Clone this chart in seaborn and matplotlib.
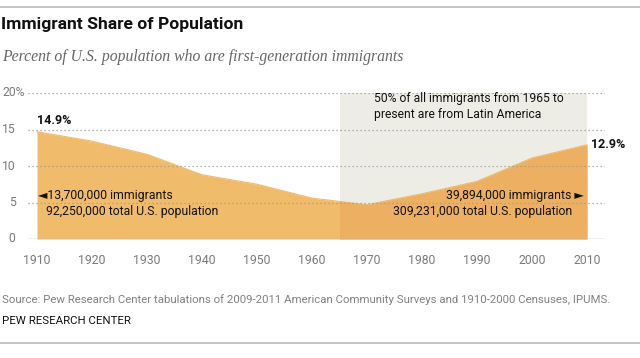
import matplotlib
matplotlib.use("Agg")
import matplotlib.pyplot as plt
import matplotlib.transforms as mtransforms
import seaborn as sns
import pandas as pd
from matplotlib.patches import Rectangle
from matplotlib.lines import Line2D

years = [1910, 1920, 1930, 1940, 1950, 1960, 1970, 1980, 1990, 2000, 2010]
share = [14.7, 13.4, 11.6, 8.8, 7.5, 5.6, 4.7, 6.2, 7.9, 11.1, 12.9]
yticks = [0, 5, 10, 15, 20]
ytick_labels = ["0", "5", "10", "15", "20%"]
shade_start, shade_end = 1965, 2010

df = pd.DataFrame({"year": years, "share": share})

sns.set_theme(style="white")
FONT = ["Roboto", "DejaVu Sans"]
plt.rcParams["font.family"] = FONT

W, H = 640, 358
fig = plt.figure(figsize=(W / 100, H / 100), dpi=100)
fig.patch.set_facecolor("white")

def fx(px):
    return px / W

def fy(py):
    return 1 - py / H

ax = fig.add_axes([fx(28), fy(239), fx(605) - fx(28), fy(93) - fy(239)])
ax.set_xlim(1910 - 9 / 5.5, 2010 + 18 / 5.5)
ax.set_ylim(0, 20)
ax.set_facecolor("none")
for s in ax.spines.values():
    s.set_visible(False)

# shaded era
shade = Rectangle((shade_start, 0), shade_end - shade_start, 20,
                  facecolor="#EEEDE5", edgecolor="none", zorder=0)
ax.add_patch(shade)

# gridlines
for t in yticks[1:]:
    ax.axhline(t, color="#9a9a9a", lw=0.9, ls=(0, (1, 2.2)), zorder=3)

# area
sns.lineplot(data=df, x="year", y="share", ax=ax, color="#F0BB6B", lw=0.8,
             zorder=2, legend=False)
ax.fill_between(years, share, 0, color="#F0BB6B", lw=0, zorder=2)
dark = ax.fill_between(years, share, 0, color="#EDB062", lw=0, zorder=2.5)
clip = Rectangle((shade_start, 0), shade_end - shade_start, 20,
                 transform=ax.transData, facecolor="none", edgecolor="none")
dark.set_clip_path(clip)
ax.axhline(0, color="#b5b5b5", lw=1.0, zorder=4)
ax.set_xlabel("")
ax.set_ylabel("")
ax.set_xticks([])
ax.set_yticks([])

# y tick labels (numbers right-aligned, top label with % starts at left edge)
ytrans = mtransforms.blended_transform_factory(fig.transFigure, ax.transData)
for t, lab in zip(yticks, ytick_labels):
    if lab.endswith("%"):
        fig.text(fx(2), t, lab, transform=ytrans, fontsize=8.7, color="#7a7a7a",
                 ha="left", va="center")
    else:
        fig.text(fx(15.5), t, lab, transform=ytrans, fontsize=8.7, color="#7a7a7a",
                 ha="right", va="center")

# x tick labels
for yr in years:
    ax.text(yr, -2.95, str(yr), fontsize=8.8, color="#7a7a7a", ha="center",
            va="center")

# annotations
ax.text(years[0], share[0] + 0.6, "14.9%", fontsize=9, fontweight="bold",
        color="#111111", ha="left", va="bottom")
ax.text(years[-1] + 0.7, share[-1], "12.9%", fontsize=9, fontweight="bold",
        color="#111111", ha="left", va="center")
ax.text(years[0] + 0.2, 5.9, "\u25C413,700,000 immigrants", fontsize=8.8,
        color="#111111", ha="left", va="center", family=FONT)
ax.text(years[0] + 1.6, 3.8, "92,250,000 total U.S. population", fontsize=8.8,
        color="#111111", ha="left", va="center")
ax.text(2009.5, 6.0, "39,894,000 immigrants \u25BA", fontsize=8.8,
        color="#111111", ha="right", va="center", family=FONT)
ax.text(2007.3, 3.8, "309,231,000 total U.S. population", fontsize=8.8,
        color="#111111", ha="right", va="center")
ax.text(1971.2, 18.2, "50% of all immigrants from 1965 to\npresent are from Latin America",
        fontsize=8.7, color="#111111", ha="left", va="center", linespacing=1.3)

# titles
fig.text(fx(1), fy(25), "Immigrant Share of Population", fontsize=12.6,
         fontweight="bold", color="#111111", ha="left", va="center")
fig.text(fx(2), fy(57), "Percent of U.S. population who are first-generation immigrants",
         fontsize=11.3, fontstyle="italic", color="#666666", ha="left", va="center",
         family=["Liberation Serif", "DejaVu Serif"])
fig.text(fx(2), fy(300),
         "Source: Pew Research Center tabulations of 2009-2011 American Community Surveys and 1910-2000 Censuses, IPUMS.",
         fontsize=8.2, color="#808080", ha="left", va="center")
fig.text(fx(2), fy(320.5), "PEW RESEARCH CENTER", fontsize=8.2, color="#111111",
         ha="left", va="center")

# top & bottom rules
fig.add_artist(Line2D([0, 1], [fy(7), fy(7)], transform=fig.transFigure,
                      color="#bbbbbb", lw=1.2))
fig.add_artist(Line2D([0, 1], [fy(343), fy(343)], transform=fig.transFigure,
                      color="#bbbbbb", lw=1.2))

fig.savefig("out.png", dpi=100, facecolor="white")
